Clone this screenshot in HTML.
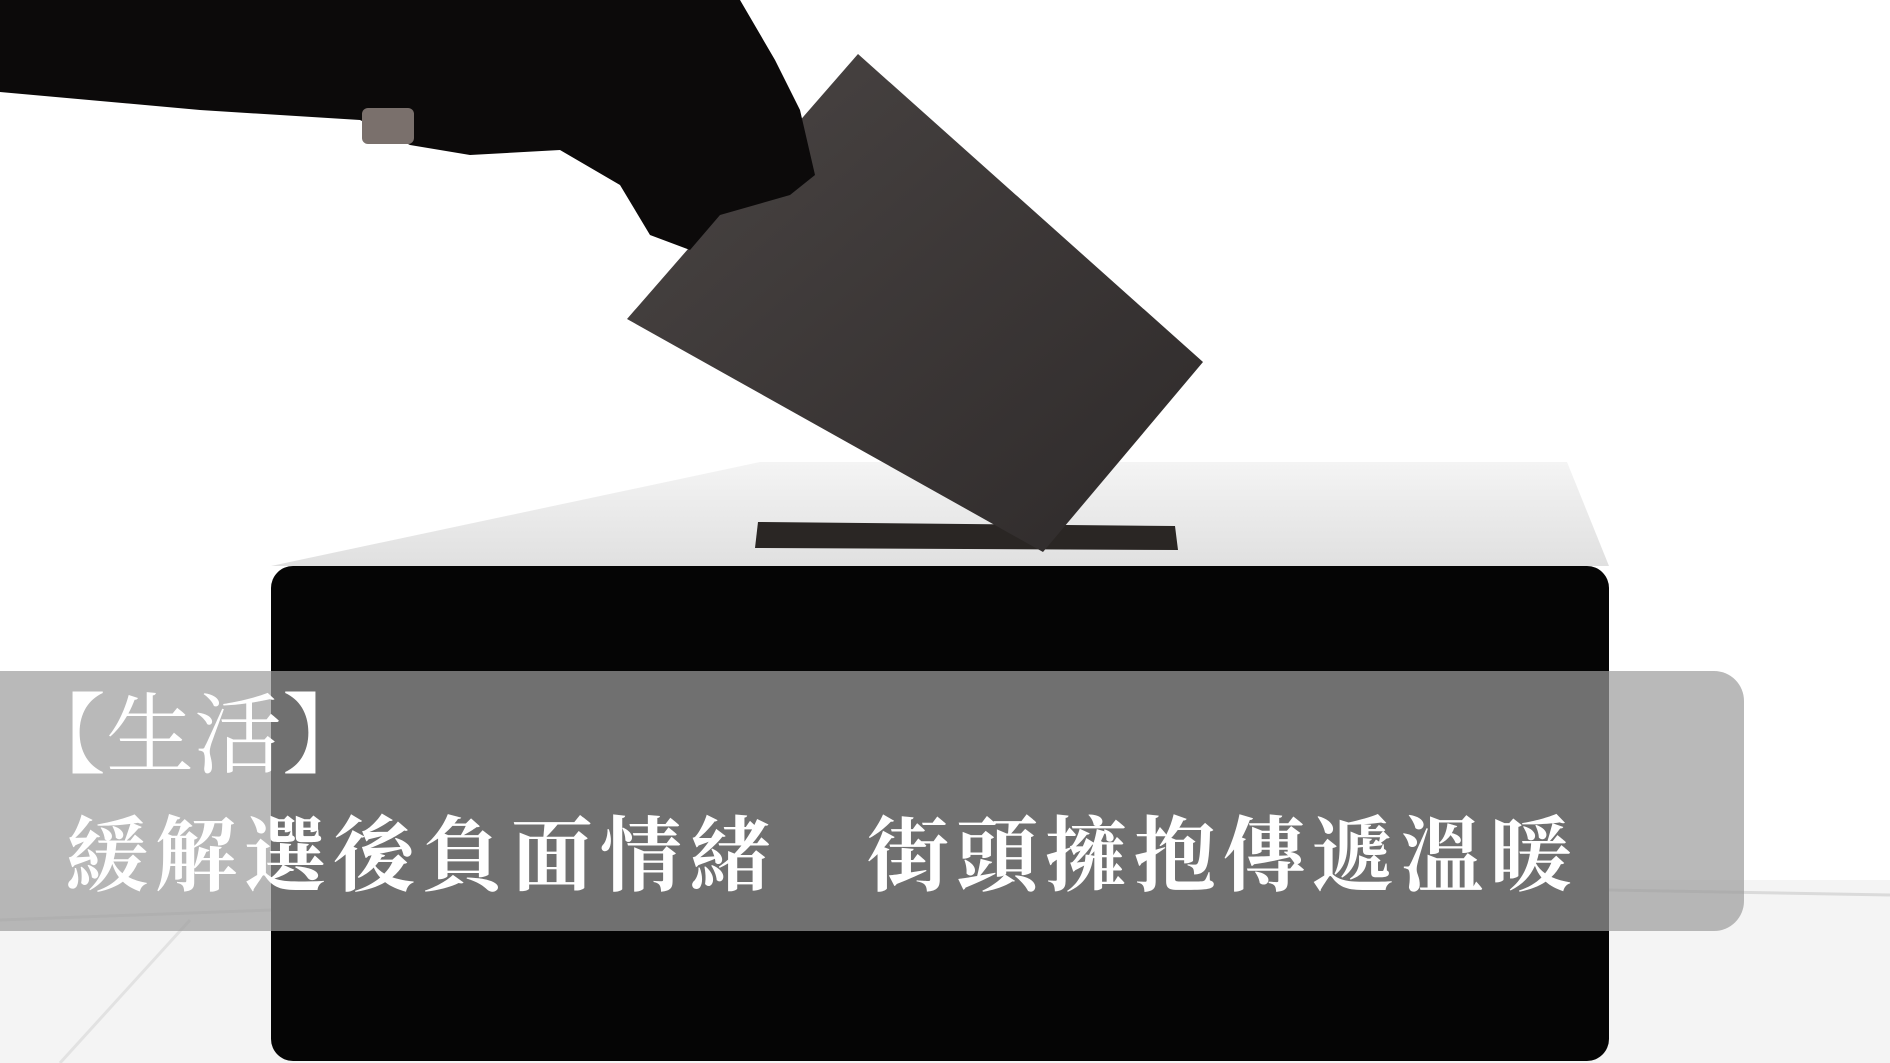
<!DOCTYPE html>
<html><head><meta charset="utf-8">
<style>
html,body{margin:0;padding:0;}
body{width:1890px;height:1063px;overflow:hidden;background:#fff;position:relative;font-family:"Liberation Serif","Noto Serif CJK SC","Noto Sans CJK TC",serif;}
svg{position:absolute;left:0;top:0;}
.banner{position:absolute;left:0;top:671px;width:1744px;height:260px;background:rgba(156,156,156,0.71);border-radius:0 30px 30px 0;}
.t1{position:absolute;left:18px;top:694px;font-size:88px;color:#fff;line-height:1;white-space:nowrap;}
.t2{position:absolute;left:66px;top:816px;font-size:82px;color:#fff;line-height:1;letter-spacing:7px;white-space:nowrap;font-weight:bold;}
</style></head>
<body>
<svg width="1890" height="1063" viewBox="0 0 1890 1063">
  <defs>
    <linearGradient id="pg" x1="0" y1="0" x2="1" y2="1">
      <stop offset="0" stop-color="#4a4544"/>
      <stop offset="1" stop-color="#2e2a2a"/>
    </linearGradient>
    <linearGradient id="tg" x1="0" y1="0" x2="0" y2="1">
      <stop offset="0" stop-color="#f4f4f4"/>
      <stop offset="1" stop-color="#e0e0e0"/>
    </linearGradient>
  </defs>
  <g>
    <rect x="0" y="880" width="1890" height="183" fill="#f4f4f4"/>
    <line x1="0" y1="920" x2="271" y2="910" stroke="#e0e0e0" stroke-width="3"/>
    <line x1="1609" y1="890" x2="1890" y2="895" stroke="#dadada" stroke-width="3"/>
    <line x1="60" y1="1063" x2="190" y2="920" stroke="#e2e2e2" stroke-width="3"/>
  </g>
  <polygon points="760,462 1567,462 1609,566 271,566" fill="url(#tg)"/>
  <polygon points="758,522 1175,526 1178,550 755,548" fill="#2a2624"/>
  <rect x="271" y="566" width="1338" height="495" rx="22" fill="#050505"/>
  <polygon points="858,54 1203,362 1043,552 627,319" fill="url(#pg)"/>
  <path d="M0,0 L740,0 L775,60 L800,110 L815,175 L790,195 L720,215 L690,250 L650,235 L620,185 L560,150 L470,155 L410,145 L360,120 L200,110 L0,92 Z" fill="#0c0a0a"/>
  <rect x="362" y="108" width="52" height="36" rx="6" fill="#7a706c"/>
</svg>
<div class="banner"></div>
<div class="t1">【生活】</div>
<div class="t2">緩解選後負面情緒　街頭擁抱傳遞溫暖</div>
</body></html>
